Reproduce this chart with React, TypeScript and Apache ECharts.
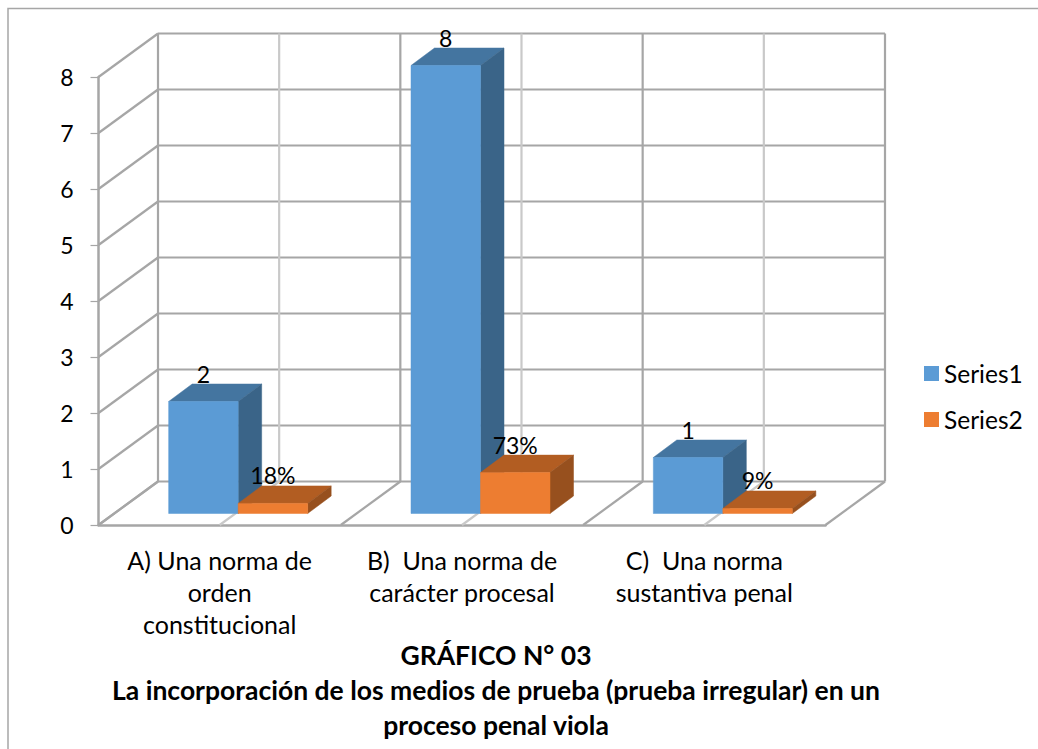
import { useEffect, useRef } from "react";
import * as echarts from "echarts";

const categories = [
  "A) Una norma de\norden\nconstitucional",
  "B)  Una norma de\ncarácter procesal",
  "C)  Una norma\nsustantiva penal",
];
const series1Values = [2, 8, 1];
const series2Values = [0.18, 0.73, 0.09];
const valueTicks = [0, 1, 2, 3, 4, 5, 6, 7, 8];
const wallColumns = [0, 0.5, 1, 1.5, 2, 2.5, 3];
const titleLines = [
  "GRÁFICO N° 03",
  "La incorporación de los medios de prueba (prueba irregular) en un",
  "proceso penal viola",
];

const FONT = "Lato";
const WALL_DX = 59.5;
const WALL_DY = -43.5;
const BAR_DX = 23.5;
const BAR_DY = -17.5;
const FLOOR_DX = 18.5;
const FLOOR_DY = -11.5;
const BAR_WIDTH = 69.5;
const MAJOR = "#a6a6a6";
const MINOR = "#c9c9c9";

// Walls of the box: one slanted and one back line per value tick.
function renderRow(_: any, api: any) {
  const [x0, y] = api.coord([0, api.value(0)]);
  const [x1] = api.coord([3, api.value(0)]);
  const line = (x1a: number, y1a: number, x2a: number, y2a: number) => ({
    type: "line",
    shape: { x1: x1a, y1: y1a, x2: x2a, y2: y2a },
    style: { stroke: MAJOR, lineWidth: 2.2 },
  });
  return {
    type: "group",
    children: [
      line(x0, y, x0 + WALL_DX, y + WALL_DY),
      line(x0 + WALL_DX, y + WALL_DY, x1 + WALL_DX, y + WALL_DY),
    ],
  };
}

// Back-wall verticals and their floor diagonals; half-way columns are lighter.
function renderColumn(_: any, api: any) {
  const col = api.value(0);
  const [x, y0] = api.coord([col, 0]);
  const [, y8] = api.coord([col, 8]);
  const stroke = Number.isInteger(col) ? MAJOR : MINOR;
  const style = { stroke, lineWidth: 2.2 };
  return {
    type: "group",
    children: [
      { type: "line", shape: { x1: x, y1: y0, x2: x + WALL_DX, y2: y0 + WALL_DY }, style },
      { type: "line", shape: { x1: x + WALL_DX, y1: y0 + WALL_DY, x2: x + WALL_DX, y2: y8 + WALL_DY }, style },
    ],
  };
}

function makeBarRenderer(side: number, front: string, top: string, right: string, fmt: (v: number) => string) {
  return (_: any, api: any) => {
    const value = api.value(1);
    const [cx, yTop0] = api.coord([api.value(0) + 0.5, value]);
    const [, yBase0] = api.coord([api.value(0) + 0.5, 0]);
    const xl = cx + FLOOR_DX + (side === 0 ? -BAR_WIDTH : 0);
    const xr = xl + BAR_WIDTH;
    const yt = yTop0 + FLOOR_DY;
    const yb = yBase0 + FLOOR_DY;
    const poly = (points: number[][], fill: string) => ({
      type: "polygon",
      shape: { points },
      style: { fill, stroke: fill, lineWidth: 0.5 },
    });
    return {
      type: "group",
      children: [
        poly([[xl, yt], [xr, yt], [xr + BAR_DX, yt + BAR_DY], [xl + BAR_DX, yt + BAR_DY]], top),
        poly([[xr, yt], [xr + BAR_DX, yt + BAR_DY], [xr + BAR_DX, yb + BAR_DY], [xr, yb]], right),
        poly([[xl, yt], [xr, yt], [xr, yb], [xl, yb]], front),
        {
          type: "text",
          x: (xl + xr) / 2,
          y: yt - 28,
          style: {
            text: fmt(value),
            fill: "#000",
            font: `23px ${FONT}`,
            align: "center",
            verticalAlign: "middle",
          },
        },
      ],
    };
  };
}

export default function App() {
  const ref = useRef<HTMLDivElement>(null);

  useEffect(() => {
    document.body.style.margin = "0";
    const chart = echarts.init(ref.current!, undefined, { renderer: "svg" });
    chart.setOption({
      animation: false,
      backgroundColor: "#fff",
      textStyle: { fontFamily: FONT },
      title: {
        text: titleLines.join("\n"),
        left: 491,
        top: 632,
        textAlign: "center",
        textStyle: { fontFamily: FONT, fontWeight: "bold", fontSize: 26.5, lineHeight: 35, color: "#000" },
      },
      legend: {
        left: 919,
        top: 356,
        orient: "vertical",
        itemWidth: 15,
        itemHeight: 15,
        itemGap: 21,
        icon: "rect",
        data: [
          { name: "Series1", itemStyle: { color: "#5b9bd5" } },
          { name: "Series2", itemStyle: { color: "#ed7d31" } },
        ],
        textStyle: { fontFamily: FONT, fontSize: 24.5, color: "#000" },
      },
      graphic: [
        {
          type: "rect",
          shape: { x: 8, y: 8.5, width: 1060, height: 780 },
          style: { fill: "none", stroke: "#a6a6a6", lineWidth: 1.5 },
          silent: true,
        },
      ],
      grid: { left: 98.5, top: 77, width: 727, height: 448 },
      xAxis: [
        {
          type: "value",
          min: 0,
          max: 3,
          interval: 1,
          show: false,
        },
        {
          type: "category",
          data: categories,
          position: "bottom",
          axisLine: { lineStyle: { color: MAJOR, width: 2.5 } },
          axisTick: { length: 10, lineStyle: { color: MAJOR, width: 1.2 } },
          axisLabel: {
            color: "#000",
            fontFamily: FONT,
            fontSize: 25,
            lineHeight: 32,
            margin: 19,
            interval: 0,
            verticalAlign: "top",
          },
        },
      ],
      yAxis: {
        type: "value",
        min: 0,
        max: 8,
        interval: 1,
        splitLine: { show: false },
        axisLine: { show: true, lineStyle: { color: MAJOR, width: 2.5 } },
        axisTick: { show: true, length: 8, lineStyle: { color: MAJOR, width: 1.2 } },
        axisLabel: { color: "#000", fontFamily: FONT, fontSize: 23, margin: 25, padding: [3, 0, 0, 0] },
      },
      series: [
        {
          type: "custom",
          name: "rows",
          silent: true,
          xAxisIndex: 0,
          data: valueTicks.map((v) => [v]),
          encode: { x: -1, y: 0 },
          renderItem: renderRow,
          z: 1,
          clip: false,
        },
        {
          type: "custom",
          name: "columns",
          silent: true,
          xAxisIndex: 0,
          data: wallColumns.map((c) => [c]),
          encode: { x: 0, y: -1 },
          renderItem: renderColumn,
          z: 1,
          clip: false,
        },
        {
          type: "custom",
          name: "Series1",
          xAxisIndex: 0,
          itemStyle: { color: "#5b9bd5" },
          data: series1Values.map((v, i) => [i, v]),
          encode: { x: 0, y: 1 },
          renderItem: makeBarRenderer(0, "#5b9bd5", "#4475a0", "#3a6488", (v) => String(v)),
          z: 3,
          clip: false,
        },
        {
          type: "custom",
          name: "Series2",
          xAxisIndex: 0,
          itemStyle: { color: "#ed7d31" },
          data: series2Values.map((v, i) => [i, v]),
          encode: { x: 0, y: 1 },
          renderItem: makeBarRenderer(1, "#ed7d31", "#b25d22", "#97501e", (v) => `${Math.round(v * 100)}%`),
          z: 4,
          clip: false,
        },
      ],
    });
    return () => chart.dispose();
  }, []);

  return <div ref={ref} style={{ width: 1038, height: 749 }} />;
}
